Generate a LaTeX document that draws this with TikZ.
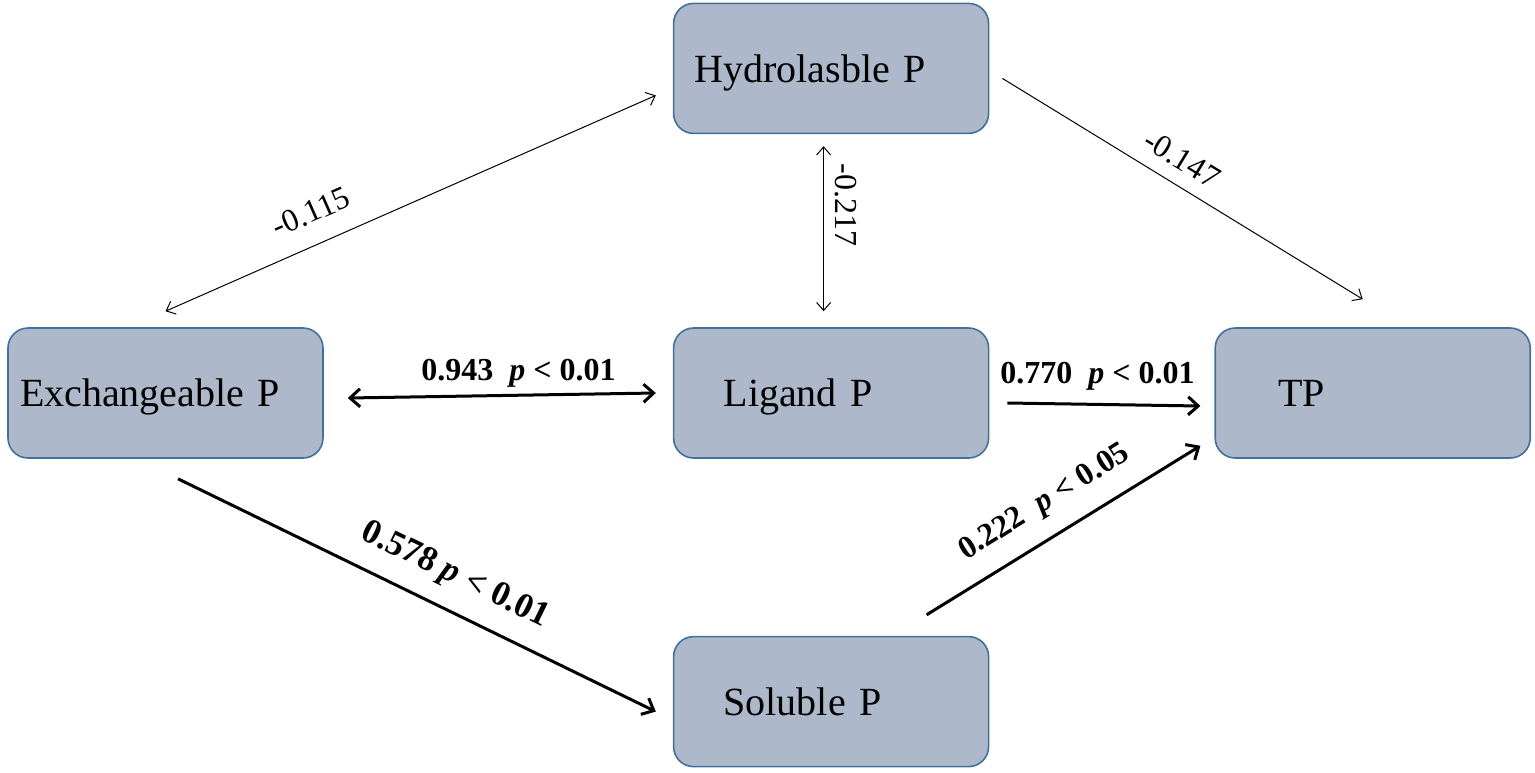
\documentclass[tikz,border=0pt]{standalone}
\usepackage{fontspec}
\setmainfont{Liberation Serif}
\usetikzlibrary{positioning,arrows.meta}
\definecolor{poolfill}{HTML}{ADB9CA}
\definecolor{poolline}{HTML}{41719C}

\begin{document}
\begin{tikzpicture}[x=0.5pt, y=-0.5pt,
  pool/.style={draw=poolline, fill=poolfill, line width=0.8pt, rounded corners=10pt,
    minimum width=157.5pt, minimum height=65pt, text width=157.5pt, inner sep=0pt,
    text depth=0pt, align=left, font=\fontsize{20}{24}\selectfont},
  weak/.style={line width=0.5pt, >={Straight Barb[length=4pt,width=7pt]}},
  strong/.style={line width=1.5pt, >={Straight Barb[length=5pt,width=9pt]}},
  wlab/.style={font=\fontsize{16}{18}\selectfont, inner sep=0pt},
  slab/.style={font=\fontsize{16}{18}\selectfont\bfseries, inner sep=0pt}]
\useasboundingbox (0,0) rectangle (1535,772);
\node[pool] (exch) at (165.5,393) {\hspace*{6pt}Exchangeable P};
\node[pool, right=174.5pt of exch] (lig) {\hspace*{25pt}Ligand P};
\node[pool, right=112.5pt of lig] (tp) {\hspace*{31.5pt}TP};
\node[pool, above=96.5pt of lig] (hyd) {\hspace*{10.5pt}Hydrolasble P};
\node[pool, below=88.5pt of lig] (sol) {\hspace*{25pt}Soluble P};
% non-significant paths
\draw[weak, <->] ([shift={(0,-16)}]exch.north) -- ([shift={(-17,27)}]hyd.west);
\draw[weak, <->] ([shift={(-7.5,12)}]hyd.south) -- ([shift={(-7.5,-16)}]lig.north);
\draw[weak, ->] ([shift={(13,10)}]hyd.east) -- ([shift={(-10,-28)}]tp.north);
\node[wlab, rotate=23.7] (l115) at (311,212) {-0.115};
\node[wlab, rotate=-90] (l217) at (846,205) {-0.217};
\node[wlab, rotate=-31.4] (l147) at (1182,159) {-0.147};
% significant paths
\draw[strong, <->] ([shift={(24,5)}]exch.east) -- ([shift={(-17,0)}]lig.west);
\draw[strong, ->] ([shift={(18,10)}]lig.east) -- ([shift={(-14,13)}]tp.west);
\draw[strong, ->] ([shift={(12.5,20)}]exch.south) -- ([shift={(-17,10)}]sol.west);
\draw[strong, ->] ([shift={(95.5,-21)}]sol.north) -- ([shift={(-14,-13)}]tp.south west);
\node[slab, anchor=base] (l943) at (518.5,380) {0.943\ \ \textit{p} < 0.01};
\node[slab, anchor=base] (l770) at (1097.5,383) {0.770\ \ \textit{p} < 0.01};
\node[slab, rotate=-25.9, font=\fontsize{17.5}{20}\selectfont\bfseries] (l578) at (455,576) {0.578 \textit{p} < 0.01};
\node[slab, rotate=31.8] (l222) at (1045,503) {0.222\ \ \textit{p} < 0.05};
\end{tikzpicture}
\end{document}
